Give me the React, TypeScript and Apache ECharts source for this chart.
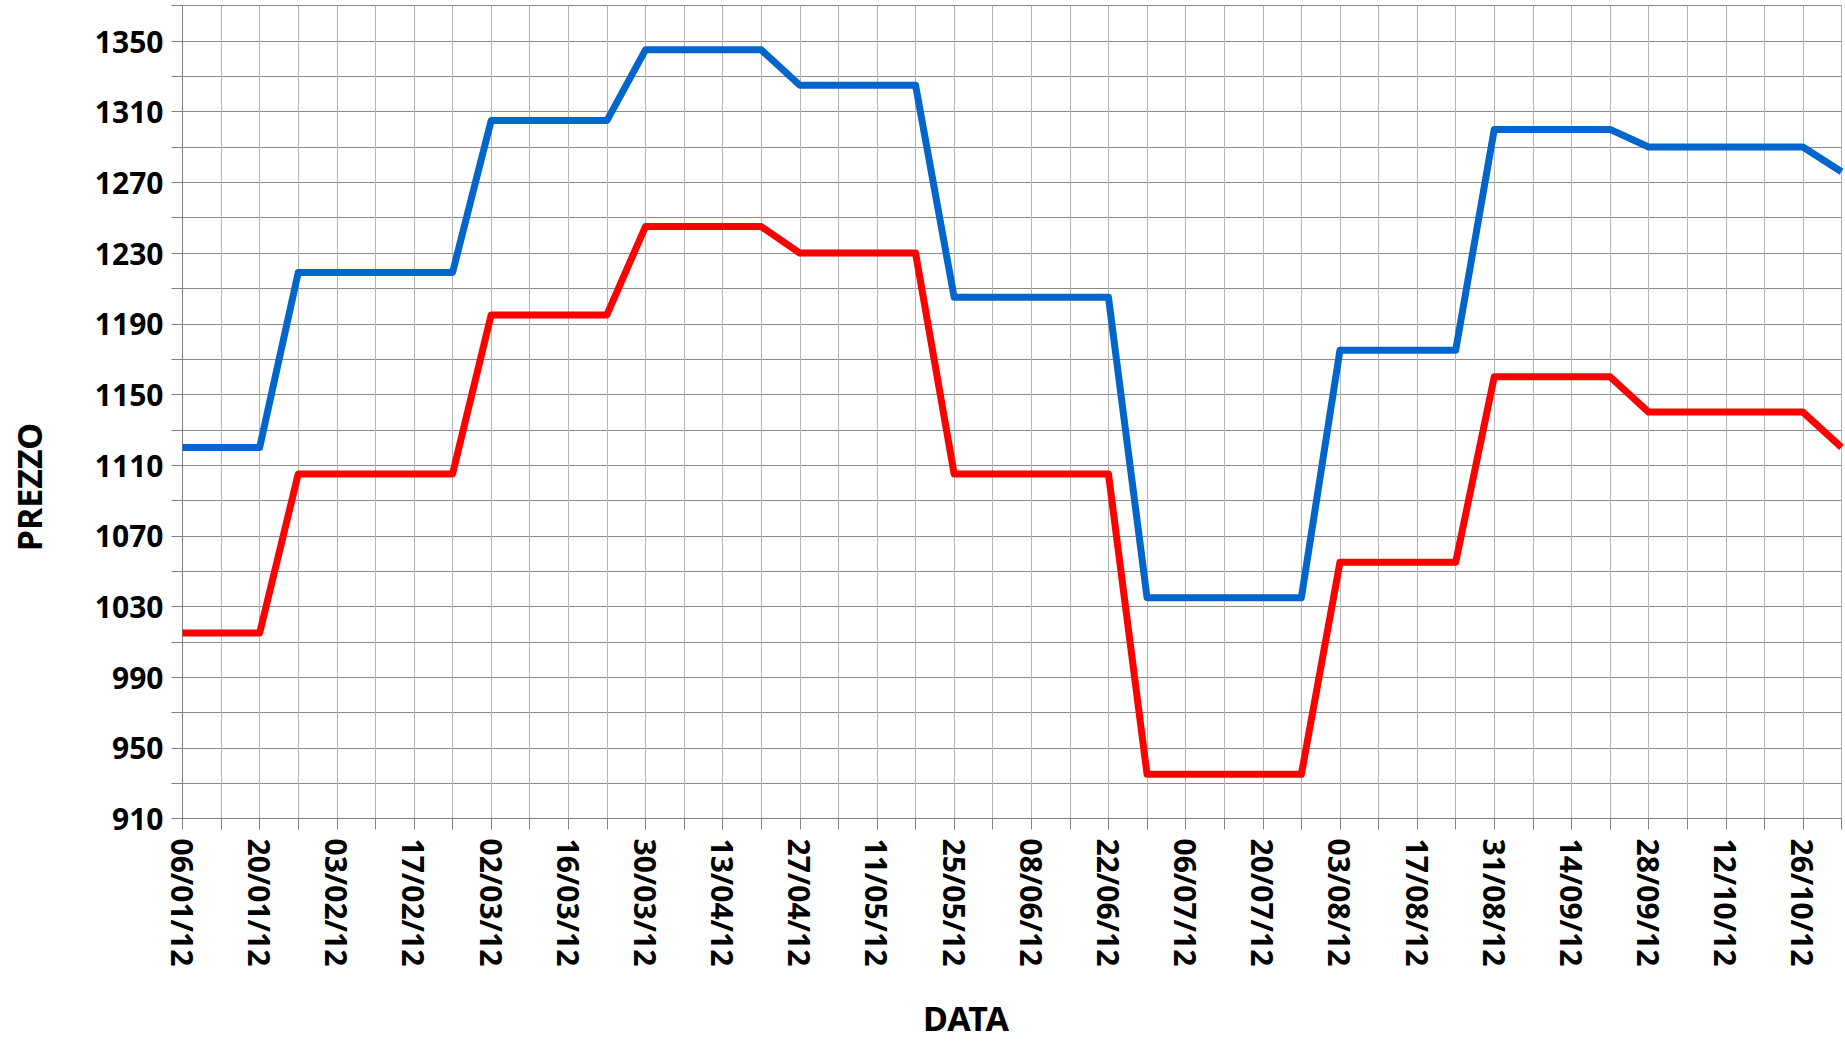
import React, { useEffect, useRef } from "react";
import * as echarts from "echarts";

const dates = [
  "06/01/12", "13/01/12", "20/01/12", "27/01/12", "03/02/12", "10/02/12", "17/02/12", "24/02/12",
  "02/03/12", "09/03/12", "16/03/12", "23/03/12", "30/03/12", "06/04/12", "13/04/12", "20/04/12",
  "27/04/12", "04/05/12", "11/05/12", "18/05/12", "25/05/12", "01/06/12", "08/06/12", "15/06/12",
  "22/06/12", "29/06/12", "06/07/12", "13/07/12", "20/07/12", "27/07/12", "03/08/12", "10/08/12",
  "17/08/12", "24/08/12", "31/08/12", "07/09/12", "14/09/12", "21/09/12", "28/09/12", "05/10/12",
  "12/10/12", "19/10/12", "26/10/12", "02/11/12",
];

const blueValues = [
  1120, 1120, 1120,
  1219, 1219, 1219, 1219, 1219,
  1305, 1305, 1305, 1305,
  1345, 1345, 1345, 1345,
  1325, 1325, 1325, 1325,
  1205, 1205, 1205, 1205, 1205,
  1035, 1035, 1035, 1035, 1035,
  1175, 1175, 1175, 1175,
  1300, 1300, 1300, 1300,
  1290, 1290, 1290, 1290, 1290,
  1276,
];

const redValues = [
  1015, 1015, 1015,
  1105, 1105, 1105, 1105, 1105,
  1195, 1195, 1195, 1195,
  1245, 1245, 1245, 1245,
  1230, 1230, 1230, 1230,
  1105, 1105, 1105, 1105, 1105,
  935, 935, 935, 935, 935,
  1055, 1055, 1055, 1055,
  1160, 1160, 1160, 1160,
  1140, 1140, 1140, 1140, 1140,
  1120,
];

const yMin = 910;
const yMax = 1370;
const yStep = 20;
const yLabelStep = 40;

const xTitle = "DATA";
const yTitle = "PREZZO";

const FONT = '"Noto Sans", "Open Sans", sans-serif';

export default function App() {
  const ref = useRef<HTMLDivElement>(null);

  useEffect(() => {
    if (!ref.current) return;
    const chart = echarts.init(ref.current, undefined, { renderer: "svg" });
    chart.setOption({
      animation: false,
      backgroundColor: "#ffffff",
      grid: { left: 182.5, right: 3.5, top: 5.7, bottom: 223.5, containLabel: false },
      xAxis: {
        type: "category",
        data: dates,
        boundaryGap: false,
        axisLine: { show: true, lineStyle: { color: "#808080", width: 1 } },
        axisTick: { show: true, interval: 0, length: 11, lineStyle: { color: "#808080" } },
        axisLabel: {
          interval: 1,
          rotate: -90,
          margin: 20,
          color: "#000",
          fontSize: 30,
          fontWeight: "bold",
          fontFamily: FONT,
        },
        splitLine: { show: true, interval: 0, lineStyle: { color: "#b4b4b4", width: 1 } },
      },
      yAxis: {
        type: "value",
        min: yMin,
        max: yMax,
        interval: yStep,
        axisLine: { show: true, lineStyle: { color: "#808080", width: 1 } },
        axisTick: { show: true, length: 11, lineStyle: { color: "#808080" } },
        axisLabel: {
          margin: 19,
          color: "#000",
          fontSize: 30,
          fontWeight: "bold",
          fontFamily: FONT,
          formatter: (v: number) => ((v - yMin) % yLabelStep === 0 ? String(v) : ""),
        },
        splitLine: { show: true, lineStyle: { color: "#8a8a8a", width: 1 } },
      },
      graphic: [
        {
          type: "text",
          x: 29,
          y: 487,
          rotation: Math.PI / 2,
          style: {
            text: yTitle,
            fill: "#000",
            font: `bold 34px ${FONT}`,
            align: "center",
            verticalAlign: "middle",
            textAlign: "center",
            textVerticalAlign: "middle",
          },
        },
        {
          type: "text",
          x: 966,
          y: 1018,
          style: {
            text: xTitle,
            fill: "#000",
            font: `bold 34px ${FONT}`,
            align: "center",
            verticalAlign: "middle",
            textAlign: "center",
            textVerticalAlign: "middle",
          },
        },
      ],
      series: [
        {
          type: "line",
          data: blueValues,
          showSymbol: false,
          symbol: "none",
          lineStyle: { color: "#0066cc", width: 7, join: "round" },
        },
        {
          type: "line",
          data: redValues,
          showSymbol: false,
          symbol: "none",
          lineStyle: { color: "#ff0000", width: 7, join: "round" },
        },
      ],
    });
    return () => chart.dispose();
  }, []);

  return (
    <div
      ref={ref}
      style={{ position: "absolute", left: 0, top: 0, width: 1845, height: 1042 }}
    />
  );
}
